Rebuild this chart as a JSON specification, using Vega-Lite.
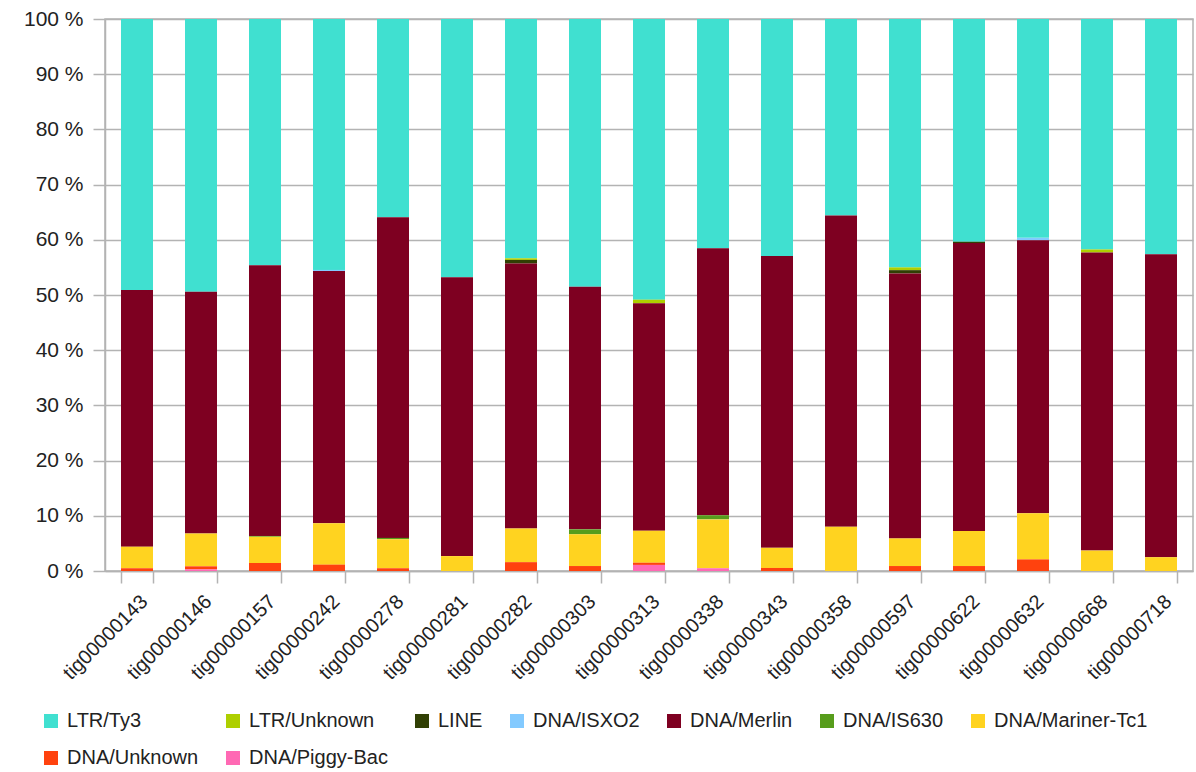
{
  "$schema": "https://vega.github.io/schema/vega-lite/v6.json",
  "autosize": "none",
  "width": 1088,
  "height": 552,
  "padding": {"left": 105, "top": 19, "right": 3, "bottom": 201},
  "background": "white",
  "config": {
    "font": "Liberation Sans",
    "view": {"stroke": "#b3b3b3", "strokeWidth": 1.5}
  },
  "data": {
    "values": [
      {"contig": "tig00000143", "type": "LTR/Ty3", "pct": 49.1},
      {"contig": "tig00000143", "type": "DNA/Merlin", "pct": 46.5},
      {"contig": "tig00000143", "type": "DNA/Mariner-Tc1", "pct": 3.9},
      {"contig": "tig00000143", "type": "DNA/Unknown", "pct": 0.5},
      {"contig": "tig00000146", "type": "LTR/Ty3", "pct": 49.4},
      {"contig": "tig00000146", "type": "DNA/Merlin", "pct": 43.8},
      {"contig": "tig00000146", "type": "DNA/Mariner-Tc1", "pct": 5.95},
      {"contig": "tig00000146", "type": "DNA/Unknown", "pct": 0.55},
      {"contig": "tig00000146", "type": "DNA/Piggy-Bac", "pct": 0.3},
      {"contig": "tig00000157", "type": "LTR/Ty3", "pct": 44.6},
      {"contig": "tig00000157", "type": "DNA/Merlin", "pct": 49.05},
      {"contig": "tig00000157", "type": "DNA/IS630", "pct": 0.15},
      {"contig": "tig00000157", "type": "DNA/Mariner-Tc1", "pct": 4.75},
      {"contig": "tig00000157", "type": "DNA/Unknown", "pct": 1.45},
      {"contig": "tig00000242", "type": "LTR/Ty3", "pct": 45.45},
      {"contig": "tig00000242", "type": "DNA/ISXO2", "pct": 0.2},
      {"contig": "tig00000242", "type": "DNA/Merlin", "pct": 45.7},
      {"contig": "tig00000242", "type": "DNA/Mariner-Tc1", "pct": 7.5},
      {"contig": "tig00000242", "type": "DNA/Unknown", "pct": 1.15},
      {"contig": "tig00000278", "type": "LTR/Ty3", "pct": 35.9},
      {"contig": "tig00000278", "type": "DNA/Merlin", "pct": 58.1},
      {"contig": "tig00000278", "type": "DNA/IS630", "pct": 0.25},
      {"contig": "tig00000278", "type": "DNA/Mariner-Tc1", "pct": 5.25},
      {"contig": "tig00000278", "type": "DNA/Unknown", "pct": 0.5},
      {"contig": "tig00000281", "type": "LTR/Ty3", "pct": 46.8},
      {"contig": "tig00000281", "type": "DNA/Merlin", "pct": 50.5},
      {"contig": "tig00000281", "type": "DNA/Mariner-Tc1", "pct": 2.7},
      {"contig": "tig00000282", "type": "LTR/Ty3", "pct": 43.35},
      {"contig": "tig00000282", "type": "LTR/Unknown", "pct": 0.3},
      {"contig": "tig00000282", "type": "LINE", "pct": 0.65},
      {"contig": "tig00000282", "type": "DNA/Merlin", "pct": 48.0},
      {"contig": "tig00000282", "type": "DNA/Mariner-Tc1", "pct": 6.1},
      {"contig": "tig00000282", "type": "DNA/Unknown", "pct": 1.6},
      {"contig": "tig00000303", "type": "LTR/Ty3", "pct": 48.5},
      {"contig": "tig00000303", "type": "DNA/Merlin", "pct": 43.95},
      {"contig": "tig00000303", "type": "DNA/IS630", "pct": 0.9},
      {"contig": "tig00000303", "type": "DNA/Mariner-Tc1", "pct": 5.75},
      {"contig": "tig00000303", "type": "DNA/Unknown", "pct": 0.9},
      {"contig": "tig00000313", "type": "LTR/Ty3", "pct": 50.85},
      {"contig": "tig00000313", "type": "LTR/Unknown", "pct": 0.65},
      {"contig": "tig00000313", "type": "DNA/Merlin", "pct": 41.2},
      {"contig": "tig00000313", "type": "DNA/Mariner-Tc1", "pct": 5.8},
      {"contig": "tig00000313", "type": "DNA/Unknown", "pct": 0.4},
      {"contig": "tig00000313", "type": "DNA/Piggy-Bac", "pct": 1.1},
      {"contig": "tig00000338", "type": "LTR/Ty3", "pct": 41.55},
      {"contig": "tig00000338", "type": "DNA/Merlin", "pct": 48.35},
      {"contig": "tig00000338", "type": "DNA/IS630", "pct": 0.75},
      {"contig": "tig00000338", "type": "DNA/Mariner-Tc1", "pct": 8.85},
      {"contig": "tig00000338", "type": "DNA/Piggy-Bac", "pct": 0.5},
      {"contig": "tig00000343", "type": "LTR/Ty3", "pct": 42.95},
      {"contig": "tig00000343", "type": "DNA/Merlin", "pct": 52.85},
      {"contig": "tig00000343", "type": "DNA/Mariner-Tc1", "pct": 3.65},
      {"contig": "tig00000343", "type": "DNA/Unknown", "pct": 0.55},
      {"contig": "tig00000358", "type": "LTR/Ty3", "pct": 35.6},
      {"contig": "tig00000358", "type": "DNA/Merlin", "pct": 56.4},
      {"contig": "tig00000358", "type": "DNA/Mariner-Tc1", "pct": 8.0},
      {"contig": "tig00000597", "type": "LTR/Ty3", "pct": 45.0},
      {"contig": "tig00000597", "type": "LTR/Unknown", "pct": 0.5},
      {"contig": "tig00000597", "type": "LINE", "pct": 0.6},
      {"contig": "tig00000597", "type": "DNA/Merlin", "pct": 48.0},
      {"contig": "tig00000597", "type": "DNA/Mariner-Tc1", "pct": 5.0},
      {"contig": "tig00000597", "type": "DNA/Unknown", "pct": 0.9},
      {"contig": "tig00000622", "type": "LTR/Ty3", "pct": 40.35},
      {"contig": "tig00000622", "type": "LINE", "pct": 0.25},
      {"contig": "tig00000622", "type": "DNA/Merlin", "pct": 52.15},
      {"contig": "tig00000622", "type": "DNA/Mariner-Tc1", "pct": 6.35},
      {"contig": "tig00000622", "type": "DNA/Unknown", "pct": 0.9},
      {"contig": "tig00000632", "type": "LTR/Ty3", "pct": 39.65},
      {"contig": "tig00000632", "type": "DNA/ISXO2", "pct": 0.45},
      {"contig": "tig00000632", "type": "DNA/Merlin", "pct": 49.45},
      {"contig": "tig00000632", "type": "DNA/Mariner-Tc1", "pct": 8.35},
      {"contig": "tig00000632", "type": "DNA/Unknown", "pct": 2.1},
      {"contig": "tig00000668", "type": "LTR/Ty3", "pct": 41.75},
      {"contig": "tig00000668", "type": "LTR/Unknown", "pct": 0.55},
      {"contig": "tig00000668", "type": "DNA/Merlin", "pct": 54.0},
      {"contig": "tig00000668", "type": "DNA/Mariner-Tc1", "pct": 3.7},
      {"contig": "tig00000718", "type": "LTR/Ty3", "pct": 42.6},
      {"contig": "tig00000718", "type": "DNA/Merlin", "pct": 54.9},
      {"contig": "tig00000718", "type": "DNA/Mariner-Tc1", "pct": 2.5}
    ]
  },
  "transform": [
    {"calculate": "indexof(['LTR/Ty3','LTR/Unknown','LINE','DNA/ISXO2','DNA/Merlin','DNA/IS630','DNA/Mariner-Tc1','DNA/Unknown','DNA/Piggy-Bac'], datum.type)", "as": "ord"}
  ],
  "mark": {"type": "bar"},
  "encoding": {
    "x": {
      "field": "contig",
      "type": "nominal",
      "sort": null,
      "scale": {"paddingInner": 0.5, "paddingOuter": 0.25},
      "axis": {
        "title": null,
        "labelAngle": -45,
        "labelFontSize": 20,
        "labelColor": "#222",
        "labelPadding": 8,
        "tickBand": "extent",
        "tickSize": 12,
        "tickColor": "#b3b3b3",
        "tickWidth": 1.5,
        "domainColor": "#b3b3b3",
        "domainWidth": 1.5
      }
    },
    "y": {
      "field": "pct",
      "type": "quantitative",
      "stack": "normalize",
      "scale": {"domain": [0, 1]},
      "axis": {
        "title": null,
        "values": [0, 0.1, 0.2, 0.3, 0.4, 0.5, 0.6, 0.7, 0.8, 0.9, 1],
        "labelExpr": "round(datum.value*100) + ' %'",
        "labelFontSize": 21,
        "labelColor": "#222",
        "labelPadding": 10,
        "tickSize": 12,
        "tickColor": "#b3b3b3",
        "tickWidth": 1.5,
        "domainColor": "#b3b3b3",
        "domainWidth": 1.5,
        "gridColor": "#b3b3b3",
        "gridWidth": 1.5
      }
    },
    "color": {
      "field": "type",
      "type": "nominal",
      "scale": {
        "domain": ["LTR/Ty3", "LTR/Unknown", "LINE", "DNA/ISXO2", "DNA/Merlin", "DNA/IS630", "DNA/Mariner-Tc1", "DNA/Unknown", "DNA/Piggy-Bac"],
        "range": ["#40E0D0", "#AECF00", "#314004", "#83CAFF", "#7E0021", "#579D1C", "#FFD320", "#FF420E", "#FF69B4"]
      },
      "legend": {
        "title": null,
        "orient": "none",
        "legendX": -64,
        "legendY": 692,
        "direction": "horizontal",
        "columns": 7,
        "symbolType": "square",
        "symbolSize": 196,
        "symbolStrokeWidth": 0,
        "labelFontSize": 20,
        "labelColor": "#222",
        "labelOffset": 6,
        "columnPadding": 24,
        "rowPadding": 17
      }
    },
    "order": {"field": "ord", "sort": "descending"}
  }
}
